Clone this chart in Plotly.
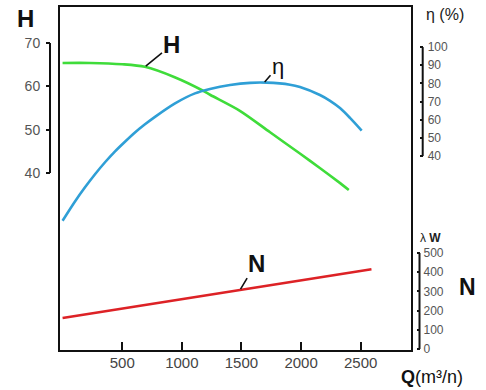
import plotly.graph_objects as go

# ---- data ----
q_h = [0, 230, 500, 690, 940, 1170, 1240, 1490, 1740, 1990, 2160, 2330, 2400]
head = [65.4, 65.4, 65.1, 64.5, 62.1, 59.1, 58.0, 54.3, 49.4, 44.5, 41.1, 37.6, 36.1]

q_eta = [0, 104, 188, 272, 356, 440, 523, 607, 691, 775, 943, 1110, 1236, 1404, 1572, 1712,
         1907, 1991, 2158, 2240, 2326, 2410, 2508]
eta = [4.4, 15.0, 22.8, 30.0, 36.6, 42.6, 47.9, 53.0, 57.5, 61.6, 69.0, 74.5, 76.9, 79.1, 80.3, 80.4,
       79.3, 78.0, 73.6, 70.5, 66.4, 61.0, 54.0]

q_n = [0, 2590]
power = [161, 415]

x_ticks = [500, 1000, 1500, 2000, 2500]
h_ticks = [40, 50, 60, 70]
eta_ticks = [40, 50, 60, 70, 80, 90, 100]
n_ticks = [0, 100, 200, 300, 400, 500]

# ---- layout helpers (pixel -> paper) ----
W, H = 486, 390
ML, MR, MT, MB = 45, 40, 6, 39
PW = W - ML - MR
PH = H - MT - MB


def px(x):
    return (x - ML) / PW


def py(y):
    return (H - MB - y) / PH


FONT = "Liberation Sans, Arial, sans-serif"

fig = go.Figure()
fig.add_trace(go.Scatter(x=q_h, y=head, mode="lines", yaxis="y", hoverinfo="skip",
                         line=dict(color="#3fdc3a", width=2.6, shape="spline", smoothing=0.8)))
fig.add_trace(go.Scatter(x=q_eta, y=eta, mode="lines", yaxis="y2", hoverinfo="skip",
                         line=dict(color="#2f9fd6", width=2.6, shape="spline", smoothing=0.8)))
fig.add_trace(go.Scatter(x=q_n, y=power, mode="lines", yaxis="y3", hoverinfo="skip",
                         line=dict(color="#dd2226", width=2.6)))

pos_h = px(50)
pos_eta = px(422.7)
pos_n = px(419.5)

tickfont = dict(family=FONT, size=14, color="#555555")
smallfont = dict(family=FONT, size=12, color="#555555")

fig.update_layout(
    width=W, height=H,
    margin=dict(l=ML, r=MR, t=MT, b=MB, autoexpand=False),
    paper_bgcolor="white", plot_bgcolor="white",
    showlegend=False,
    xaxis=dict(domain=[px(59), px(412)], range=[-30, 2930],
               tickvals=x_ticks, ticktext=[str(v) for v in x_ticks],
               ticks="inside", ticklen=9, tickwidth=2, tickcolor="#111",
               showgrid=False, zeroline=False, showline=False,
               tickfont=dict(family=FONT, size=15, color="#444"),
               ticklabelstandoff=1, automargin=False),
    yaxis=dict(anchor="free", position=pos_h, side="left", range=[-1.08, 78.54],
               tickvals=h_ticks, ticks="outside", ticklen=4, tickwidth=2, tickcolor="#111",
               showgrid=False, zeroline=False, showline=False, tickfont=tickfont,
               ticklabelstandoff=3, automargin=False),
    yaxis2=dict(anchor="free", overlaying="y", position=pos_eta, side="right", range=[-67.3, 122.6],
                tickvals=eta_ticks, ticks="inside", ticklen=3, tickwidth=2, tickcolor="#111",
                showgrid=False, zeroline=False, showline=False, tickfont=smallfont,
                ticklabelstandoff=4, automargin=False),
    yaxis3=dict(anchor="free", overlaying="y", position=pos_n, side="right", range=[-10.4, 1786],
                tickvals=n_ticks, ticks="inside", ticklen=3, tickwidth=2, tickcolor="#111",
                showgrid=False, zeroline=False, showline=False, tickfont=smallfont,
                ticklabelstandoff=3, automargin=False),
)

shapes = [
    dict(type="rect", xref="x domain", yref="y domain", x0=0, x1=1, y0=0, y1=1,
         line=dict(color="#111", width=2)),
    dict(type="line", xref="paper", yref="y", x0=pos_h, x1=pos_h, y0=h_ticks[0], y1=h_ticks[-1],
         line=dict(color="#111", width=2)),
    dict(type="line", xref="paper", yref="y2", x0=pos_eta, x1=pos_eta, y0=eta_ticks[0], y1=eta_ticks[-1],
         line=dict(color="#111", width=2)),
    dict(type="line", xref="paper", yref="y3", x0=pos_n, x1=pos_n, y0=n_ticks[0], y1=n_ticks[-1],
         line=dict(color="#111", width=2)),
]
fig.update_layout(shapes=shapes)

ann = []
# curve labels with pointer lines
ann.append(dict(x=691, y=64.5, xref="x", yref="y", text="<b>H</b>", showarrow=True,
                arrowhead=0, arrowwidth=1.6, arrowcolor="#111", ax=27, ay=-22, standoff=1,
                font=dict(family=FONT, size=24, color="#111")))
ann.append(dict(x=1689, y=80.4, xref="x", yref="y2", text="η", showarrow=True,
                arrowhead=0, arrowwidth=1.6, arrowcolor="#111", ax=14, ay=-16, standoff=1,
                font=dict(family=FONT, size=22, color="#111")))
ann.append(dict(x=1488, y=307, xref="x", yref="y3", text="<b>N</b>", showarrow=True,
                arrowhead=0, arrowwidth=1.6, arrowcolor="#111", ax=16, ay=-27, standoff=1,
                font=dict(family=FONT, size=24, color="#111")))


def title(x, y, text, size, color="#111"):
    return dict(x=px(x), y=py(y), xref="paper", yref="paper", text=text, showarrow=False,
                xanchor="center", yanchor="middle",
                font=dict(family=FONT, size=size, color=color))


ann.append(title(25, 18, "<b>H</b>", 24))
ann.append(title(445, 15, "η (%)", 16, "#222"))
ann.append(title(430, 238, "λ <b>W</b>", 12, "#222"))
ann.append(title(468, 287, "<b>N</b>", 23))
ann.append(title(432, 377, "<b>Q</b>(m³/n)", 18))
fig.update_layout(annotations=ann)

fig.write_html("out.html", config={"displayModeBar": False, "staticPlot": True},
               post_script="document.body.style.margin='0';document.body.style.overflow='hidden';")
